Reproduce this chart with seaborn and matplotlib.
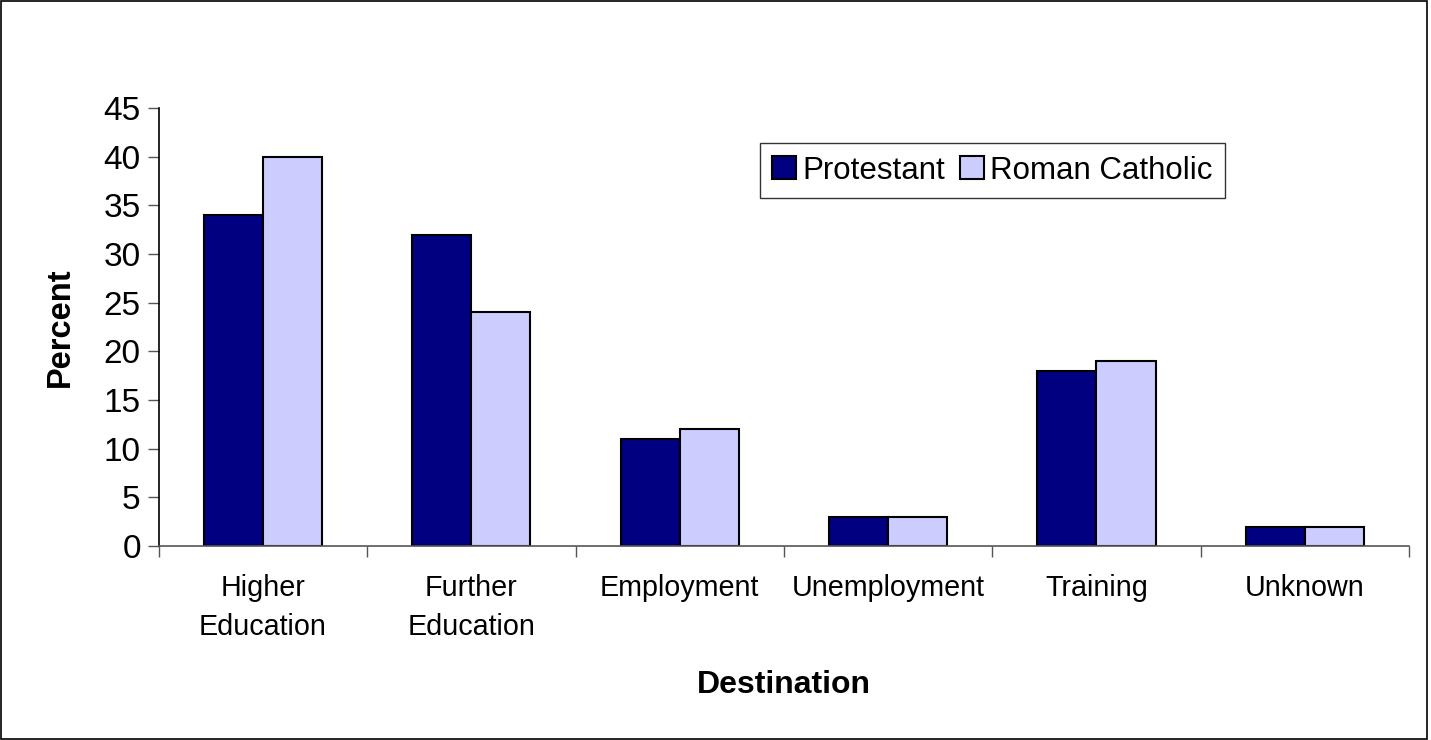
import matplotlib
matplotlib.use('Agg')
import matplotlib.pyplot as plt
import seaborn as sns
import numpy as np
import pandas as pd
from matplotlib.patches import Rectangle

categories = ["Higher\nEducation", "Further\nEducation", "Employment",
              "Unemployment", "Training", "Unknown"]
protestant = [34, 32, 11, 3, 18, 2]
roman_catholic = [40, 24, 12, 3, 19, 2]
series_names = ["Protestant", "Roman Catholic"]
colors = ["#000080", "#CCCCFF"]

df = pd.DataFrame({
    "Destination": categories * 2,
    "Percent": protestant + roman_catholic,
    "Group": [series_names[0]] * len(categories) + [series_names[1]] * len(categories),
})

sns.set_style("white")
plt.rcParams['font.family'] = ['Liberation Sans', 'DejaVu Sans']
plt.rcParams['text.color'] = 'black'
plt.rcParams['axes.labelcolor'] = 'black'
plt.rcParams['xtick.color'] = 'black'
plt.rcParams['ytick.color'] = 'black'

fig = plt.figure(figsize=(14.31, 7.40), dpi=100)
ax = fig.add_axes([0.111, 0.2622, 0.8736, 0.5918])

sns.barplot(data=df, x="Destination", y="Percent", hue="Group",
            palette=colors, width=0.567, edgecolor="black", linewidth=1.5,
            saturation=1, ax=ax)

ax.set_ylim(0, 45)
ax.set_xlim(-0.5, len(categories) - 0.5)
ax.set_yticks(np.arange(0, 46, 5))
ax.tick_params(axis='y', labelsize=24, length=8, width=1, color='#555555',
               labelcolor='black', direction='out', pad=5, left=True)

# category labels between boundary ticks
ax.set_xticks(range(len(categories)))
ax.set_xticklabels(categories, fontsize=20.7, linespacing=1.5)
ax.tick_params(axis='x', which='major', length=0, pad=20, labelcolor='black')
ax.set_xticks(np.arange(-0.5, len(categories), 1), minor=True)
ax.tick_params(axis='x', which='minor', length=8, width=1, color='#555555', direction='out', bottom=True)

for side in ['top', 'right']:
    ax.spines[side].set_visible(False)
ax.spines['left'].set_color('black')
ax.spines['left'].set_linewidth(1.2)
ax.spines['bottom'].set_color('#555555')
ax.spines['bottom'].set_linewidth(1.2)

ax.set_ylabel("Percent", fontsize=23.5, fontweight='bold', labelpad=20)
ax.set_xlabel("Destination", fontsize=23, fontweight='bold', labelpad=21)

leg = ax.legend(loc='upper left', bbox_to_anchor=(0.4807, 0.92), ncol=2,
                fontsize=22.5, frameon=True, fancybox=False, shadow=False,
                handlelength=0.75, handleheight=0.75, handletextpad=0.2,
                columnspacing=0.5, borderpad=0.4, borderaxespad=0)
leg.get_frame().set_edgecolor('black')
leg.get_frame().set_linewidth(1)
for h in leg.legend_handles:
    h.set_edgecolor('black')
    h.set_linewidth(1.5)

fig.patches.append(Rectangle((0.001, 0.002), 0.996, 0.996, transform=fig.transFigure,
                             fill=False, edgecolor='black', linewidth=1.2))

fig.savefig("out.png", dpi=100)
plt.close(fig)
